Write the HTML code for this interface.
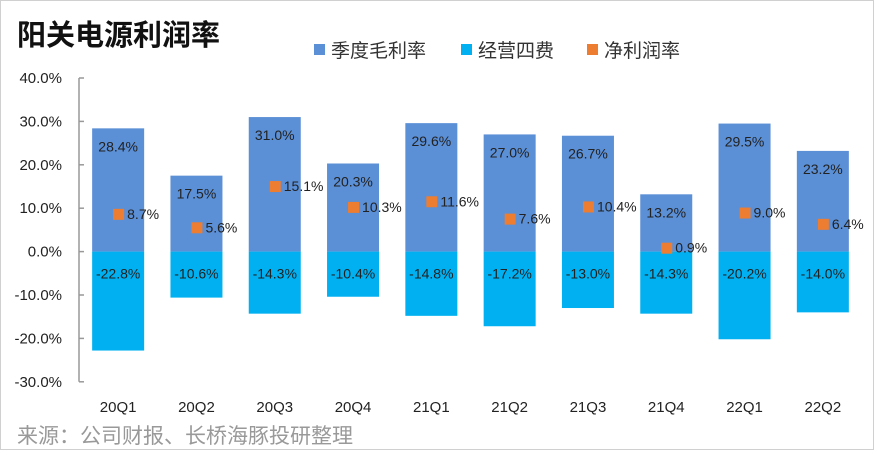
<!DOCTYPE html>
<html><head><meta charset="utf-8"><style>
body{margin:0;background:#fff;}
#wrap{position:relative;width:872px;height:448px;border:1px solid #d0d0d0;overflow:hidden;font-family:"Liberation Sans","Noto Sans CJK SC",sans-serif;}
</style></head><body>
<div id="wrap">
<svg id="chart" width="872" height="448" style="position:absolute;left:0;top:0">
<text x="16" y="44" font-size="29" font-weight="bold" fill="#111" font-family="Liberation Sans,Noto Sans CJK SC,sans-serif">阳关电源利润率</text>
<g font-size="19" fill="#333" font-family="Liberation Sans,Noto Sans CJK SC,sans-serif">
<rect x="313" y="43" width="11" height="11" fill="#5b8fd6"/>
<text x="330" y="56">季度毛利率</text>
<rect x="460" y="43" width="11" height="11" fill="#00b0f0"/>
<text x="477" y="56">经营四费</text>
<rect x="586" y="43" width="11" height="11" fill="#ed7d31"/>
<text x="603" y="56">净利润率</text>
</g>
<g id="plot"></g>
<text x="16" y="442" font-size="21" fill="#999" font-family="Liberation Sans,Noto Sans CJK SC,sans-serif">来源：公司财报、长桥海豚投研整理</text>
</svg>
</div>
<script>
const categories=["20Q1","20Q2","20Q3","20Q4","21Q1","21Q2","21Q3","21Q4","22Q1","22Q2"];
const grossMargin=[28.4,17.5,31.0,20.3,29.6,27.0,26.7,13.2,29.5,23.2];
const expenses=[-22.8,-10.6,-14.3,-10.4,-14.8,-17.2,-13.0,-14.3,-20.2,-14.0];
const netMargin=[8.7,5.6,15.1,10.3,11.6,7.6,10.4,0.9,9.0,6.4];
const yTicks=[40,30,20,10,0,-10,-20,-30];

const NS="http://www.w3.org/2000/svg";
const plot=document.getElementById('plot');
const x0=78,step=78.3,bw=52;
const y=v=>250.6-v*4.34;
const xc=i=>x0+step*(i+0.5);
function mk(t,a,p){const e=document.createElementNS(NS,t);for(const k in a)e.setAttribute(k,a[k]);(p||plot).appendChild(e);return e;}
let ax=mk('line',{x1:x0,x2:x0,y1:y(40),y2:y(-30),stroke:'#999','stroke-width':1.5});


yTicks.forEach(t=>{
  let tk=mk('line',{x1:x0,x2:x0+5,y1:y(t),y2:y(t),stroke:'#999','stroke-width':1.5});
  
  
  let tx=mk('text',{x:61,y:y(t)+5,'text-anchor':'end','font-size':15,fill:'#222'});
  tx.textContent=t.toFixed(1)+'%';
  
  
});
categories.forEach((c,i)=>{
  const cx=xc(i);
  let g=mk('rect',{x:cx-bw/2,y:y(grossMargin[i]),width:bw,height:y(0)-y(grossMargin[i]),fill:'#5b8fd6'});
  
  
  let e=mk('rect',{x:cx-bw/2,y:y(0),width:bw,height:y(expenses[i])-y(0),fill:'#00b0f0'});
  
  
  let gl=mk('text',{x:cx,y:y(grossMargin[i])+23,'text-anchor':'middle','font-size':14,fill:'#222'});
  gl.textContent=grossMargin[i].toFixed(1)+'%';
  
  
  let el=mk('text',{x:cx,y:y(0)+27,'text-anchor':'middle','font-size':14,fill:'#222'});
  el.textContent=expenses[i].toFixed(1)+'%';
  
  
  let m=mk('rect',{x:cx-5,y:y(netMargin[i])-5,width:11,height:11,fill:'#ed7d31'});
  
  
  let nl=mk('text',{x:cx+9,y:y(netMargin[i])+5,'font-size':14,fill:'#222'});
  nl.textContent=netMargin[i].toFixed(1)+'%';
  
  
  let cl=mk('text',{x:cx,y:411,'text-anchor':'middle','font-size':15,fill:'#222'});
  cl.textContent=c;
  
  
});
</script>
</body></html>
